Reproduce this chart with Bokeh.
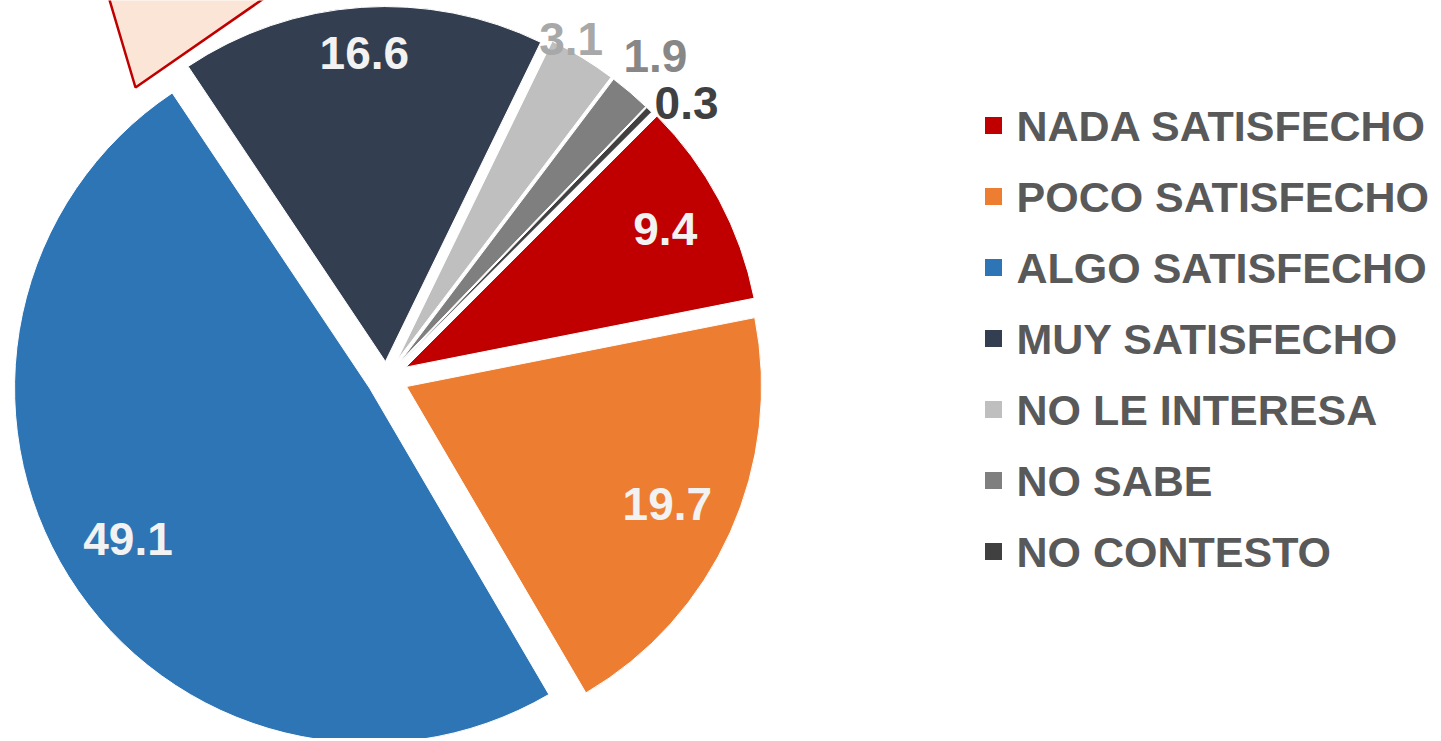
import math
from bokeh.plotting import figure
from bokeh.models import Range1d, ColumnDataSource
from bokeh.core.properties import value
from bokeh.embed import file_html
from bokeh.resources import INLINE

# ---------------- data ----------------
categories = ["NADA SATISFECHO", "POCO SATISFECHO", "ALGO SATISFECHO",
              "MUY SATISFECHO", "NO LE INTERESA", "NO SABE", "NO CONTESTO"]
values = [9.4, 19.7, 49.1, 16.6, 3.1, 1.9, 0.3]
labels = ["9.4", "19.7", "49.1", "16.6", "3.1", "1.9", "0.3"]
colors = ["#C00000", "#ED7D31", "#2E75B6", "#333F50", "#BFBFBF", "#7F7F7F", "#404040"]
label_colors = ["#F2F2F2", "#F2F2F2", "#F2F2F2", "#F2F2F2", "#A8A8A8", "#878787", "#404040"]

# ---------------- layout ----------------
W, H, M = 1432, 738, 1
CX, CY = 387, 378          # pie centre (page pixels)
R = 355                    # pie radius
START_DEG = 45             # first slice angle, clockwise from 12 o'clock
explode = [22, 22, 20, 16, 20, 20, 20]
label_r = [294, 286, 285, 309, 366, 399, 387]
label_shift = [0, 0, 0, 0, -3.1, -0.6, 3.2]
FONT = "Liberation Sans"

# callout box partially visible at top-left (page pixels)
callout_x = [101, 136, 306]
callout_y = [-30, 88, -30]

p = figure(width=W, height=H, output_backend="svg", toolbar_location=None,
           x_range=Range1d(M, M + W), y_range=Range1d(-(M + H), -M),
           min_border=0)
p.axis.visible = False
p.grid.visible = False
p.outline_line_color = None
p.background_fill_color = "white"

total = sum(values)
xs, ys, starts, ends, lx, ly = [], [], [], [], [], []
cum = 0.0
for i, v in enumerate(values):
    th0 = START_DEG + cum / total * 360.0
    cum += v
    th1 = START_DEG + cum / total * 360.0
    mid = math.radians((th0 + th1) / 2)
    ax = CX + explode[i] * math.sin(mid)
    ay = -CY + explode[i] * math.cos(mid)
    xs.append(ax)
    ys.append(ay)
    starts.append(math.radians(90 - th0))
    ends.append(math.radians(90 - th1))
    lm = math.radians((th0 + th1) / 2 + label_shift[i])
    lx.append(ax + label_r[i] * math.sin(lm))
    ly.append(ay + label_r[i] * math.cos(lm))

src = ColumnDataSource(dict(x=xs, y=ys, start=starts, end=ends, color=colors,
                            lx=lx, ly=ly, label=labels, lcolor=label_colors))

p.patch([x for x in callout_x], [-y for y in callout_y],
        fill_color="#FBE5D6", line_color="#C00000", line_width=2.5)

p.wedge(x="x", y="y", radius=R, start_angle="start", end_angle="end",
        direction="clock", fill_color="color", line_color="white",
        line_width=1, source=src)

p.text(x="lx", y="ly", text="label", text_color="lcolor",
       text_font=value(FONT), text_font_style="bold", text_font_size="46px",
       text_align="center", text_baseline="middle", source=src)

# legend
LEG_X, LEG_Y0, LEG_DY = 994, 126, 71
leg_x = [LEG_X] * len(categories)
leg_y = [-(LEG_Y0 + i * LEG_DY) for i in range(len(categories))]
leg_src = ColumnDataSource(dict(x=leg_x, y=leg_y, tx=[LEG_X + 23] * len(categories),
                                label=categories, color=colors))
p.scatter(x="x", y="y", marker="square", size=17, fill_color="color",
          line_color=None, source=leg_src)
p.text(x="tx", y="y", text="label", text_color="#595959",
       text_font=value(FONT), text_font_style="bold", text_font_size="43px",
       text_align="left", text_baseline="middle", source=leg_src)

open("out.html", "w").write(file_html(p, INLINE))
